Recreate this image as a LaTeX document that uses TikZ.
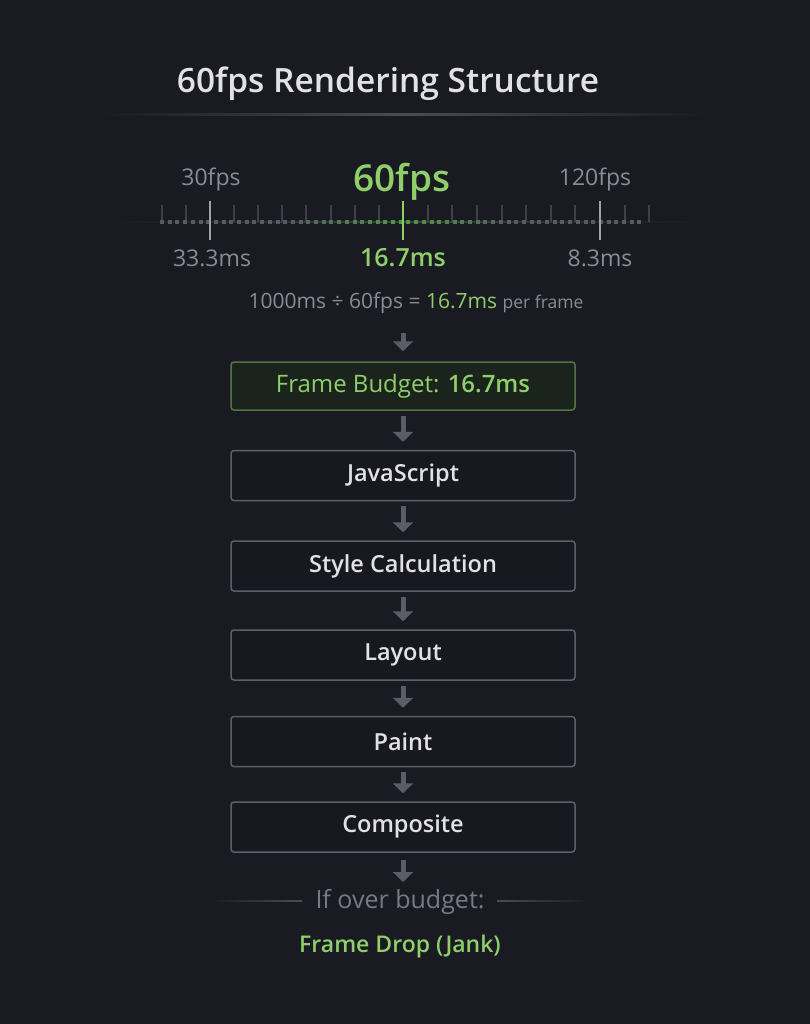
\documentclass[tikz,border=0pt]{standalone}
\usepackage{fontspec}
\IfFontExistsTF{Open Sans SemiBold}{%
  \setmainfont{Open Sans}[BoldFont={Open Sans SemiBold}]}{%
  \IfFontExistsTF{Open Sans Semibold}{%
    \setmainfont{Open Sans}[BoldFont={Open Sans Semibold}]}{%
    \setmainfont{Open Sans}}}
\usetikzlibrary{positioning,arrows.meta}

\definecolor{bgdark}{HTML}{1A1B22}
\definecolor{boxfill}{HTML}{181920}
\definecolor{boxline}{HTML}{5C5E6A}
\definecolor{titlewhite}{HTML}{E2E2E6}
\definecolor{labelgray}{HTML}{8A8B96}
\definecolor{dimgray}{HTML}{777985}
\definecolor{rulegray}{HTML}{4A4C56}
\definecolor{tickgray}{HTML}{3E404A}
\definecolor{dotgray}{HTML}{585A64}
\definecolor{dotgreen}{HTML}{4E9A3C}
\definecolor{fpsgreen}{HTML}{8FCF6A}
\definecolor{budgetfill}{HTML}{1B241C}
\definecolor{budgetline}{HTML}{557342}
\definecolor{arrowgray}{HTML}{5A5C68}

\tikzset{
  stage/.style={draw=boxline, line width=1.5pt, rounded corners=3pt, fill=boxfill,
    minimum width=344pt, minimum height=50pt, text=titlewhite,
    font=\bfseries\fontsize{23.5}{28}\selectfont},
  budget/.style={stage, draw=budgetline, fill=budgetfill, minimum height=48pt,
    text=fpsgreen, font=\fontsize{24}{28}\selectfont},
  flow/.style={draw=arrowgray, line width=5pt, -{Triangle[width=20pt,length=10pt]}},
  ratelabel/.style={text=labelgray, font=\fontsize{23}{28}\selectfont},
  ratemain/.style={text=fpsgreen, font=\bfseries\fontsize{25}{30}\selectfont}
}

\begin{document}
\begin{tikzpicture}[x=1pt,y=-1pt]
    % Background and page size
    \fill[bgdark] (0,0) rectangle (810,1024);
    \useasboundingbox (0,0) rectangle (810,1024);

    % Title with faded rule under it
    \node[text=titlewhite, font=\bfseries\fontsize{33.5}{40}\selectfont] (title) at (388,84) {60fps Rendering Structure};
    \shade[left color=bgdark, right color=rulegray] (100,114) rectangle (405,116);
    \shade[left color=rulegray, right color=bgdark] (405,114) rectangle (710,116);

    % Timeline base line
    \shade[left color=bgdark, right color=tickgray] (110,221.5) rectangle (405,222.5);
    \shade[left color=tickgray, right color=bgdark] (405,221.5) rectangle (700,222.5);

    % Minor ticks
    \foreach \x in {162,186,234,258,282,306,331,355,379,428,452,477,502,526,551,575,625,649} {
        \draw[tickgray, line width=1.2pt] (\x,205) -- (\x,222);
    }

    % Dotted scale, green around 60fps
    \foreach \i in {0,...,62} {
        \pgfmathsetmacro{\xx}{162+7.7*\i}
        \pgfmathsetmacro{\g}{max(0,100-abs(\xx-403)*0.85)}
        \fill[dotgreen!\g!dotgray] (\xx-2,220) rectangle (\xx+2,224);
    }

    % Major ticks
    \draw[labelgray!80!white, line width=1.5pt] (210,201) -- (210,240);
    \draw[fpsgreen, line width=1.5pt] (403,201) -- (403,240);
    \draw[labelgray!80!white, line width=1.5pt] (600,201) -- (600,240);

    % Rate labels
    \node[ratelabel] (fps30) at (211,179) {30fps};
    \node[ratemain, font=\bfseries\fontsize{37}{44}\selectfont] (fps60) at (402,182) {60fps};
    \node[ratelabel] (fps120) at (595,179) {120fps};
    \node[ratelabel] (ms30) at (212,258) {33.3ms};
    \node[ratemain] (ms60) at (403,258) {16.7ms};
    \node[ratelabel] (ms120) at (600,258) {8.3ms};

    % Formula
    \node[text=labelgray, font=\fontsize{21}{26}\selectfont] (formula) at (416,303)
        {1000ms ÷ 60fps = \textcolor{fpsgreen}{16.7ms} {\fontsize{17.5}{21}\selectfont per frame}};

    % Pipeline stages
    \node[budget] (frame) at (403,386) {Frame Budget: \textbf{16.7ms}};
    \node[stage] (script) at (403,475.5) {JavaScript};
    \node[stage] (style) at (403,566) {Style Calculation};
    \node[stage] (layout) at (403,655) {Layout};
    \node[stage] (paint) at (403,741.5) {Paint};
    \node[stage] (composite) at (403,827) {Composite};

    % Outcome
    \node[text=dimgray, font=\fontsize{25}{30}\selectfont] (over) at (400,902) {If over budget:};
    \coordinate (overtop) at (403,882);
    \shade[left color=bgdark, right color=rulegray] (210,900.5) rectangle (302,901.5);
    \shade[left color=rulegray, right color=bgdark] (497,900.5) rectangle (590,901.5);
    \node[text=fpsgreen, font=\bfseries\fontsize{23}{28}\selectfont] (jank) at (400,947) {Frame Drop (Jank)};

    % Arrows between the steps
    \draw[flow, shorten <=16pt, shorten >=10pt] (formula.south -| frame.north) -- (frame.north);
    \foreach \a/\b in {frame/script, script/style, style/layout, layout/paint, paint/composite} {
        \draw[flow, shorten <=5pt, shorten >=8pt] (\a.south) -- (\b.north);
    }
    \draw[flow, shorten <=7pt] (composite.south) -- (overtop);
\end{tikzpicture}
\end{document}
